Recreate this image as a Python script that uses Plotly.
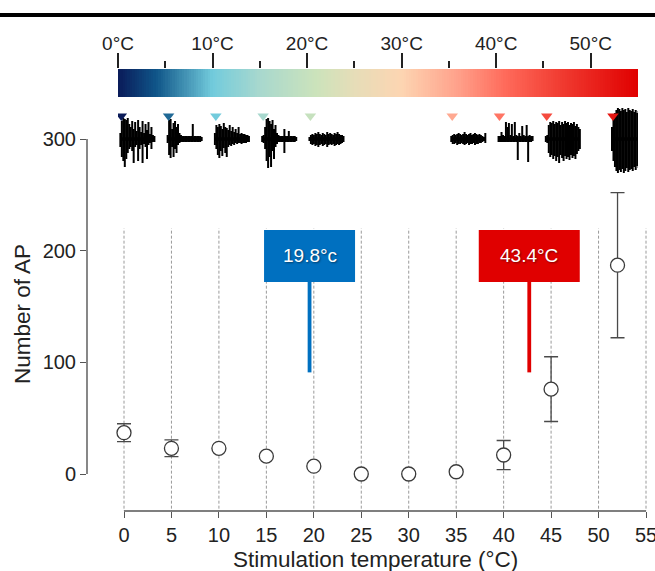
import plotly.graph_objects as go

# ---------------- data ----------------
temps = [0, 5, 10, 15, 20, 25, 30, 35, 40, 45, 52]
ap_mean = [37, 23, 23, 16, 7, 0, 0, 2, 17, 76, 187]
ap_err = [8, 7.5, 0, 0, 0, 0, 0, 0, 13, 29, 65]

x_ticks = [0, 5, 10, 15, 20, 25, 30, 35, 40, 45, 50, 55]
y_ticks = [0, 100, 200, 300]

cbar_ticks = [0, 10, 20, 30, 40, 50]
cbar_ticktext = ["0°C", "10°C", "20°C", "30°C", "40°C", "50°C"]
cbar_minor = [5, 15, 25, 35, 45]

threshold_pos = [19.55, 42.7]
threshold_labels = ["19.8°c", "43.4°C"]
threshold_colors = ["#0070C0", "#E00000"]

# example recordings: temperature, upward and downward excursions
rec_temps = [0, 5, 10, 15, 20, 35, 40, 45, 52]
rec_up = [
    [6, 18, 21, 20, 19, 21, 15, 12, 18, 10, 17, 8, 19, 12, 7, 18, 6, 15, 9, 17, 5, 12, 4, 3],
    [4, 19, 20, 10, 16, 18, 12, 15, 6, 4, 3, 3, 3, 3, 3, 3, 3, 15, 3, 3, 3, 3, 3, 2],
    [6, 14, 12, 15, 13, 10, 16, 12, 11, 9, 14, 8, 12, 7, 10, 6, 12, 5, 6, 5, 5, 4, 4, 3],
    [3, 4, 12, 20, 21, 18, 15, 19, 10, 14, 6, 4, 3, 3, 3, 10, 3, 3, 8, 3, 3, 3, 3, 2],
    [2, 4, 5, 4, 6, 5, 7, 5, 4, 6, 5, 4, 7, 5, 6, 5, 4, 6, 5, 7, 5, 4, 4, 3],
    [3, 4, 5, 4, 5, 6, 5, 4, 5, 7, 5, 4, 5, 6, 4, 5, 6, 5, 4, 5, 4, 3, 2, 6],
    [3, 3, 7, 4, 3, 17, 12, 16, 4, 15, 3, 17, 4, 3, 6, 3, 13, 4, 3, 14, 3, 4, 3, 3],
    [3, 4, 14, 17, 16, 18, 15, 17, 16, 18, 14, 17, 15, 18, 16, 17, 14, 16, 15, 17, 13, 15, 12, 10],
    [12, 20, 26, 29, 31, 30, 28, 31, 29, 30, 27, 31, 29, 28, 30, 27, 29, 26, 28, 25, 27, 24, 20, 15],
]
rec_down = [
    [8, 18, 22, 28, 20, 14, 10, 8, 12, 24, 8, 6, 22, 10, 6, 24, 5, 8, 20, 6, 4, 10, 3, 3],
    [4, 16, 19, 8, 18, 10, 14, 6, 4, 3, 3, 3, 3, 3, 3, 3, 3, 3, 3, 3, 3, 3, 3, 2],
    [6, 10, 16, 19, 12, 17, 9, 14, 18, 8, 6, 7, 5, 6, 4, 5, 4, 4, 5, 4, 4, 4, 3, 3],
    [3, 4, 10, 22, 29, 18, 28, 12, 20, 8, 5, 3, 3, 3, 3, 14, 3, 3, 3, 3, 3, 3, 3, 2],
    [2, 5, 6, 5, 7, 6, 8, 6, 5, 7, 6, 5, 8, 6, 5, 6, 5, 7, 6, 5, 6, 5, 4, 3],
    [3, 5, 5, 4, 6, 5, 5, 4, 5, 6, 5, 4, 6, 5, 5, 4, 6, 5, 5, 4, 4, 3, 2, 4],
    [3, 3, 3, 3, 3, 3, 3, 3, 3, 3, 3, 3, 3, 21, 3, 3, 3, 3, 3, 3, 23, 3, 3, 2],
    [3, 4, 14, 18, 16, 20, 17, 22, 18, 24, 16, 19, 22, 17, 20, 18, 21, 16, 19, 17, 20, 15, 12, 10],
    [12, 22, 28, 32, 34, 31, 33, 30, 34, 32, 29, 33, 31, 30, 32, 28, 31, 27, 29, 26, 28, 24, 20, 14],
]

# colour scale of the temperature bar
cscale = [
    [0 / 55, "#0A1A58"],
    [4 / 55, "#0F5588"],
    [10 / 55, "#72CBDC"],
    [15 / 55, "#A8D8CE"],
    [21 / 55, "#CCE3BB"],
    [25 / 55, "#E6DDB8"],
    [30 / 55, "#FDD5B2"],
    [36 / 55, "#FFA08A"],
    [41 / 55, "#FF6A5A"],
    [47 / 55, "#F03A30"],
    [55 / 55, "#E00000"],
]

FONT = "Liberation Sans, Arial, sans-serif"

# ---------------- geometry ----------------
W, H = 655, 571
ML, MR, MT, MB = 87, 0, 20, 60
PW, PH = W - ML - MR, H - MT - MB


def py(px):  # pixel row -> paper y
    return (H - MB - px) / PH


def pxx(px):  # pixel col -> paper x
    return (px - ML) / PW


fig = go.Figure()

# dashed vertical guide lines
gx, gy = [], []
for t in x_ticks:
    gx += [t, t, None]
    gy += [-40, 220, None]
fig.add_trace(go.Scatter(x=gx, y=gy, mode="lines", hoverinfo="skip",
                         line=dict(color="#9a9a9a", width=1, dash="3px,2px"),
                         showlegend=False))

# data points with error bars
fig.add_trace(go.Scatter(
    x=temps, y=ap_mean, mode="markers", showlegend=False,
    marker=dict(symbol="circle", size=14, color="white",
                line=dict(color="#3a3a3a", width=1.3)),
    error_y=dict(type="data", array=ap_err, visible=True,
                 color="#4a4a4a", thickness=1.3, width=7),
))

# temperature colour bar (heatmap on its own axes)
cells = [i * 0.25 + 0.125 for i in range(220)]
fig.add_trace(go.Heatmap(
    x=cells, y=[0.5], z=[cells], colorscale=cscale, zmin=0, zmax=55,
    showscale=False, xaxis="x2", yaxis="y2", hoverinfo="skip"))

# example recordings
rec_width = 3.6
sx, sy, bx, by = [], [], [], []
for t, ups, downs in zip(rec_temps, rec_up, rec_down):
    start = t + 0.25
    n = len(ups)
    for j, (u, d) in enumerate(zip(ups, downs)):
        xj = start + rec_width * j / (n - 1)
        sx += [xj, xj, None]
        sy += [u, -d, None]
    bx += [start, start + rec_width, None]
    by += [0, 0, None]
fig.add_trace(go.Scatter(x=sx, y=sy, mode="lines", xaxis="x2", yaxis="y3",
                         line=dict(color="black", width=2.0), hoverinfo="skip",
                         showlegend=False))
fig.add_trace(go.Scatter(x=bx, y=by, mode="lines", xaxis="x2", yaxis="y3",
                         line=dict(color="black", width=3.5), hoverinfo="skip",
                         showlegend=False))
# triangles marking stimulation temperature
fig.add_trace(go.Scatter(
    x=[t + 0.35 for t in rec_temps], y=[23] * len(rec_temps), mode="markers",
    xaxis="x2", yaxis="y3", showlegend=False, hoverinfo="skip",
    marker=dict(symbol="triangle-down", size=10, color=rec_temps,
                colorscale=cscale, cmin=0, cmax=55, line=dict(width=0))))

shapes = []
annotations = []
# spread-style axis lines
shapes.append(dict(type="line", xref="x", yref="paper", x0=0, x1=55, y0=0, y1=0,
                   line=dict(color="#555555", width=1.4)))
shapes.append(dict(type="line", xref="paper", yref="y", x0=0, x1=0, y0=0, y1=300,
                   line=dict(color="#555555", width=1.4)))
# top rule
shapes.append(dict(type="line", xref="paper", yref="paper", x0=pxx(0), x1=pxx(W),
                   y0=py(15), y1=py(15), line=dict(color="black", width=4)))

# threshold flags
half_w = [45.5, 50.5]
for pos, lab, col, hw in zip(threshold_pos, threshold_labels, threshold_colors, half_w):
    shapes.append(dict(type="rect", xref="x", yref="y", xsizemode="pixel",
                       xanchor=pos, x0=-hw, x1=hw, y0=172, y1=218.5,
                       fillcolor=col, line=dict(width=0), layer="above"))
    shapes.append(dict(type="line", xref="x", yref="y", x0=pos, x1=pos,
                       y0=91, y1=172, line=dict(color=col, width=3.8), layer="above"))
    annotations.append(dict(x=pos, y=195.5, xref="x", yref="y", text=lab,
                            showarrow=False, xanchor="center", yanchor="middle",
                            font=dict(family=FONT, size=19, color="white",
                                      shadow="1px 1px 2px rgba(0,0,0,0.45)")))

# axis titles
annotations.append(dict(x=pxx(375), y=py(559), xref="paper", yref="paper",
                        text="Stimulation temperature (°C)", showarrow=False,
                        xanchor="center", yanchor="middle",
                        font=dict(family=FONT, size=22.5, color="#222222")))
annotations.append(dict(x=pxx(22), y=py(314), xref="paper", yref="paper",
                        text="Number of AP", showarrow=False, textangle=-90,
                        xanchor="center", yanchor="middle",
                        font=dict(family=FONT, size=22.5, color="#222222")))

# axis ranges so that 0..55 maps to pixels 124..646 and 0..300 to 474..139
xscale = (646 - 124) / 55
xmin = -(124 - ML) / xscale
xmax = xmin + PW / xscale
yscale = (474 - 139) / 300
ymin = -(H - MB - 474) / yscale
main_top_px = 100
ymax = (474 - main_top_px) / yscale

fig.update_layout(
    template="none",
    width=W, height=H,
    margin=dict(l=ML, r=MR, t=MT, b=MB, pad=0),
    paper_bgcolor="white", plot_bgcolor="white",
    font=dict(family=FONT, color="#222222"),
    showlegend=False,
    shapes=shapes, annotations=annotations,
    xaxis=dict(domain=[0, 1], range=[xmin, xmax], tickvals=x_ticks,
               ticks="outside", ticklen=6, tickwidth=1.3, tickcolor="#555555",
               automargin=False, ticklabeloverflow="allow",
               tickfont=dict(size=20, color="#222222"), showline=False,
               showgrid=False, zeroline=False, anchor="y"),
    yaxis=dict(domain=[0, py(main_top_px)], range=[ymin, ymax], tickvals=y_ticks,
               ticks="outside", ticklen=6, tickwidth=1.3, tickcolor="#555555",
               automargin=False, ticklabeloverflow="allow",
               tickfont=dict(size=20, color="#222222"), showline=False,
               showgrid=False, zeroline=False, anchor="x"),
    xaxis2=dict(domain=[pxx(118), pxx(638)], range=[0, 55], anchor="y2",
                side="top", tickvals=cbar_ticks, ticktext=cbar_ticktext,
                ticks="outside", ticklen=15, tickwidth=1.6, tickcolor="#222222",
                ticklabelstandoff=-5, automargin=False, ticklabeloverflow="allow",
                minor=dict(tickvals=cbar_minor, ticks="outside", ticklen=7,
                           tickwidth=1.6, tickcolor="#222222"),
                tickfont=dict(size=19, color="#222222"), showline=False,
                showgrid=False, zeroline=False),
    yaxis2=dict(domain=[py(97), py(69)], range=[0, 1], visible=False,
                anchor="x2", automargin=False),
    yaxis3=dict(domain=[py(179), py(99)], range=[-40, 40], visible=False,
                anchor="x2", automargin=False),
)

fig.write_html("out.html", config={"displayModeBar": False},
               post_script="document.body.style.margin='0';document.body.style.padding='0';")
